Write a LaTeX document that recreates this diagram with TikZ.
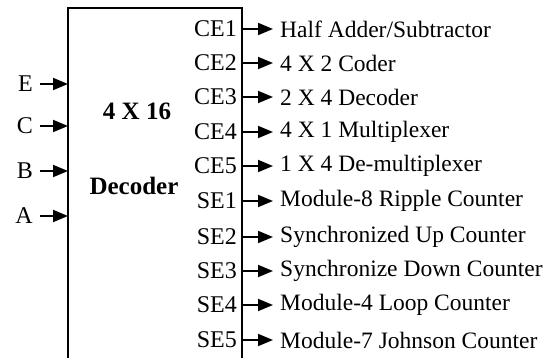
\documentclass[tikz,border=0pt]{standalone}
\usepackage{fontspec}
\setmainfont{Liberation Serif}
\usetikzlibrary{arrows.meta}
\begin{document}
\begin{tikzpicture}[x=1pt,y=-1pt,
  sig/.style={line width=1.8pt,-{Triangle[length=15pt,width=12pt]}},
  lbl/.style={font=\fontsize{24}{26}\selectfont,inner sep=0pt},
  outtxt/.style={font=\fontsize{23.5}{26}\selectfont,inner sep=0pt,anchor=west},
  inlbl/.style={font=\fontsize{24}{26}\selectfont,inner sep=0pt,anchor=east},
  title/.style={font=\fontsize{25}{27}\selectfont\bfseries,inner sep=0pt}]
\useasboundingbox (0,0) rectangle (551,358);
\draw[line width=1.8pt] (68,362) coordinate (bl) -- (68,8) coordinate (tl) -- (242,8) coordinate (tr) -- (242,362) coordinate (br);
\node[title] (t1) at (137,111) {4 X 16};
\node[title] (t2) at (134,186) {Decoder};
% inputs
\foreach \n/\y in {E/84,C/126,B/171,A/216}{
  \node[inlbl] (in\n) at (33,\y) {\n};
  \coordinate (s\n) at (40,\y);
  \coordinate (e\n) at (68,\y);
  \draw[sig] (s\n) -- (e\n);
}
% outputs
\foreach \id/\lab/\txt/\y in {
  1/CE1/Half Adder\slash Subtractor/29,
  2/CE2/4 X 2 Coder/63,
  3/CE3/2 X 4 Decoder/97,
  4/CE4/4 X 1 Multiplexer/132,
  5/CE5/1 X 4 De-multiplexer/166,
  6/SE1/Module-8 Ripple Counter/201,
  7/SE2/Synchronized Up Counter/237,
  8/SE3/Synchronize Down Counter/271,
  9/SE4/Module-4 Loop Counter/305,
  10/SE5/Module-7 Johnson Counter/340}{
  \node[lbl,anchor=east] (o\id) at (237,\y) {\lab};
  \coordinate (os\id) at (242,\y);
  \node[outtxt] (ot\id) at (280,\y) {\txt};
  \draw[sig] (os\id) -- ([xshift=-7pt]ot\id.west);
}
\end{tikzpicture}
\end{document}
